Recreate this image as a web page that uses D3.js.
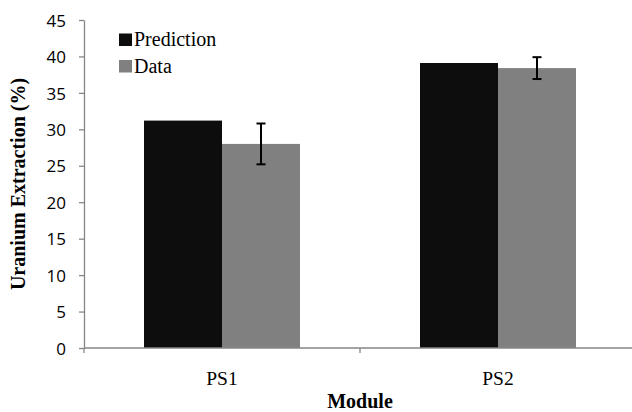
<!DOCTYPE html>
<html>
<head>
<meta charset="utf-8">
<script src="https://cdn.jsdelivr.net/npm/d3@7"></script>
<style>
  body { margin: 0; background: #fff; }
  .xcat { font-family: "Liberation Serif", "Times New Roman", serif; font-size: 19.5px; fill: #000; }
  .title { font-family: "Liberation Serif", "Times New Roman", serif; font-size: 20px; font-weight: bold; fill: #000; }
  .legend text { font-family: "Liberation Serif", "Times New Roman", serif; font-size: 20px; fill: #000; }
</style>
</head>
<body>
<div class="chart"></div>
<script>
// data
var modules = ["PS1", "PS2"];
var seriesNames = ["Prediction", "Data"];
var prediction = [31.2, 39.1];
var measured = [28.0, 38.4];
var measuredErr = [2.8, 1.5];
var yTicks = [0, 5, 10, 15, 20, 25, 30, 35, 40, 45];

var svgWidth = 632;
var svgHeight = 412;

var margin = { top: 20, right: -4, bottom: 64, left: 84 };
var width = svgWidth - margin.left - margin.right;
var height = svgHeight - margin.top - margin.bottom;

var colors = { "Prediction": "#0d0d0d", "Data": "#808080" };
var axisColor = "#868686";

var svg = d3.select(".chart")
    .append("svg")
    .attr("width", svgWidth)
    .attr("height", svgHeight);

var chartGroup = svg.append("g")
    .attr("transform", `translate(${margin.left}, ${margin.top})`);

// scales
var xScale = d3.scaleBand()
    .domain(modules)
    .range([0, width])
    .padding(0);

var xInner = d3.scaleBand()
    .domain(seriesNames)
    .range([60, xScale.bandwidth() - 60])
    .padding(0);

var yScale = d3.scaleLinear()
    .domain([0, 45])
    .range([height, 0]);

// bars
var rows = modules.map(function(m, i) {
    return { module: m, values: [
        { name: "Prediction", value: prediction[i] },
        { name: "Data", value: measured[i], err: measuredErr[i] }
    ] };
});

var groups = chartGroup.selectAll("g.module")
    .data(rows)
    .enter()
    .append("g")
    .attr("class", "module")
    .attr("transform", d => `translate(${xScale(d.module)}, 0)`);

groups.selectAll("rect")
    .data(d => d.values)
    .enter()
    .append("rect")
    .attr("x", d => xInner(d.name))
    .attr("y", d => yScale(d.value))
    .attr("width", xInner.bandwidth())
    .attr("height", d => height - yScale(d.value))
    .attr("fill", d => colors[d.name]);

// error bars on measured data
var errs = groups.selectAll("g.err")
    .data(d => d.values.filter(v => v.err))
    .enter()
    .append("g")
    .attr("class", "err")
    .attr("stroke", "#000")
    .attr("stroke-width", 2);

errs.append("line")
    .attr("x1", d => xInner(d.name) + xInner.bandwidth() / 2)
    .attr("x2", d => xInner(d.name) + xInner.bandwidth() / 2)
    .attr("y1", d => yScale(d.value + d.err))
    .attr("y2", d => yScale(d.value - d.err));

errs.selectAll("line.cap")
    .data(d => [
        { x: xInner(d.name) + xInner.bandwidth() / 2, y: yScale(d.value + d.err) },
        { x: xInner(d.name) + xInner.bandwidth() / 2, y: yScale(d.value - d.err) }
    ])
    .enter()
    .append("line")
    .attr("class", "cap")
    .attr("x1", d => d.x - 4.5)
    .attr("x2", d => d.x + 4.5)
    .attr("y1", d => d.y)
    .attr("y2", d => d.y);

// y axis
var leftAxis = d3.axisLeft(yScale)
    .tickValues(yTicks)
    .tickSize(5)
    .tickPadding(13)
    .tickSizeOuter(0);

var yAxis = chartGroup.append("g")
    .call(leftAxis)
    .attr("font-family", "'Open Sans', sans-serif")
    .attr("font-size", 17);
yAxis.select(".domain").attr("stroke", axisColor).attr("stroke-width", 1.3);
yAxis.selectAll(".tick line").attr("stroke", axisColor).attr("stroke-width", 1.3);
yAxis.selectAll(".tick text")
    .attr("dy", "0.36em")
    .style("font-size", "17px")
    .style("fill", "#000");

// x axis: ticks at the category boundaries
var xAxis = chartGroup.append("g")
    .attr("transform", `translate(0, ${height})`);
xAxis.append("line")
    .attr("x1", 0).attr("x2", width)
    .attr("stroke", axisColor).attr("stroke-width", 1.3);
xAxis.selectAll("line.tick")
    .data(modules.map(m => xScale(m)).concat([width]))
    .enter()
    .append("line")
    .attr("class", "tick")
    .attr("x1", d => d).attr("x2", d => d)
    .attr("y1", 0).attr("y2", 5)
    .attr("stroke", axisColor).attr("stroke-width", 1.3);

xAxis.selectAll("text.xcat")
    .data(modules)
    .enter()
    .append("text")
    .attr("class", "xcat")
    .attr("x", d => xScale(d) + xScale.bandwidth() / 2)
    .attr("y", 37)
    .attr("text-anchor", "middle")
    .text(d => d);

// axis titles
svg.append("text")
    .attr("class", "title")
    .attr("x", margin.left + width / 2)
    .attr("y", 408)
    .attr("text-anchor", "middle")
    .text("Module");

svg.append("text")
    .attr("class", "title")
    .attr("transform", `translate(25, ${margin.top + height / 2}) rotate(-90)`)
    .attr("text-anchor", "middle")
    .text("Uranium Extraction (%)");

// legend
var legend = svg.append("g")
    .attr("class", "legend")
    .attr("transform", "translate(119, 46)");

var items = legend.selectAll("g")
    .data(seriesNames)
    .enter()
    .append("g")
    .attr("transform", (d, i) => `translate(0, ${i * 26.5})`);

items.append("rect")
    .attr("x", 0)
    .attr("y", -12.5)
    .attr("width", 13)
    .attr("height", 12.5)
    .attr("fill", d => colors[d]);

items.append("text")
    .attr("x", 15)
    .attr("y", 0)
    .text(d => d);
</script>
</body>
</html>
